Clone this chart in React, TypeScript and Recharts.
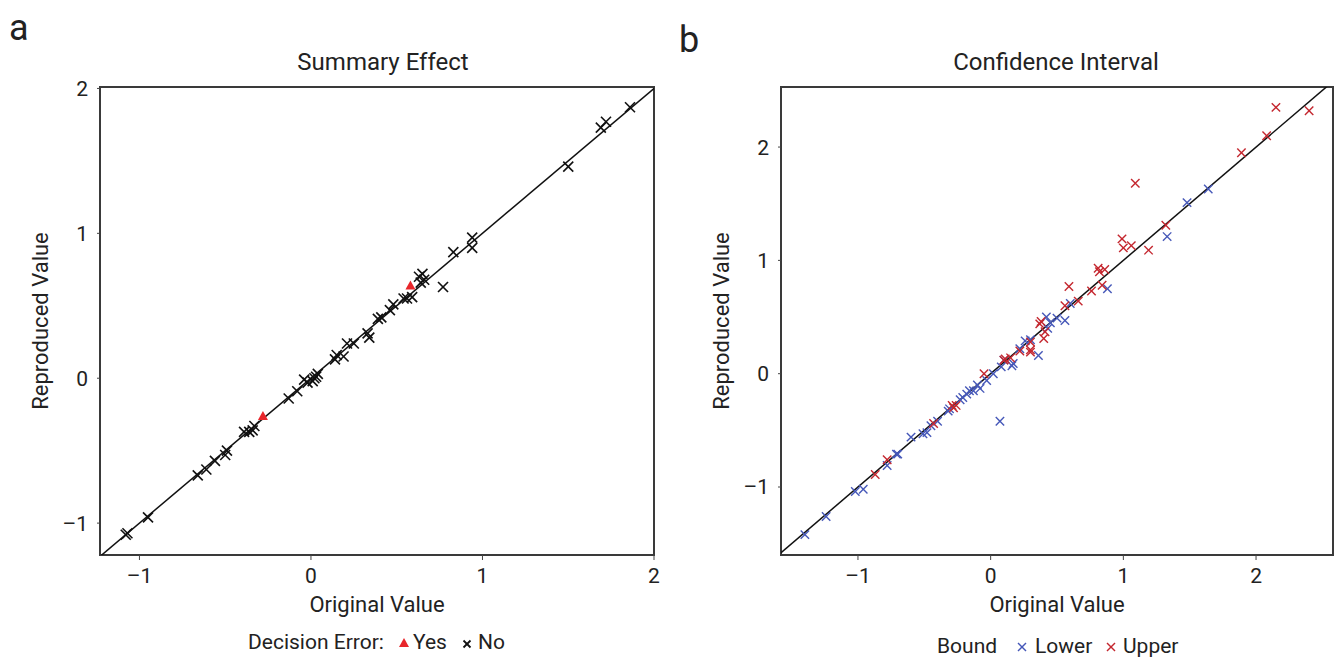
import React from 'react';
import {
  ScatterChart,
  Scatter,
  XAxis,
  YAxis,
  ReferenceLine,
  ReferenceArea,
} from 'recharts';

// Panel a: summary effect, [original, reproduced]
const summaryNo: [number, number][] = [
  [1.86, 1.87], [1.72, 1.77], [1.69, 1.73], [1.5, 1.46], [0.94, 0.97], [0.94, 0.9],
  [0.83, 0.87], [0.77, 0.63], [0.63, 0.7], [0.65, 0.72], [0.66, 0.68], [0.64, 0.66],
  [0.59, 0.56], [0.56, 0.55], [0.54, 0.55], [0.48, 0.51], [0.46, 0.47], [0.41, 0.42],
  [0.39, 0.41], [0.33, 0.31], [0.34, 0.28], [0.25, 0.24], [0.21, 0.24], [0.19, 0.15],
  [0.14, 0.13], [0.15, 0.16], [0.03, 0.01], [0.04, 0.03], [0.01, -0.02], [-0.02, -0.03],
  [-0.04, -0.01], [0.02, 0.0], [-0.08, -0.09], [-0.13, -0.14], [-0.33, -0.33],
  [-0.36, -0.37], [-0.39, -0.37], [-0.34, -0.36], [-0.49, -0.5], [-0.5, -0.53],
  [-0.56, -0.57], [-0.61, -0.63], [-0.66, -0.67], [-0.95, -0.96], [-1.07, -1.07],
  [-1.08, -1.08],
];
const summaryYes: [number, number][] = [[0.58, 0.64], [-0.28, -0.26]];

// Panel b: confidence interval bounds, [original, reproduced]
const boundLower: [number, number][] = [
  [1.64, 1.63], [1.48, 1.51], [1.33, 1.21], [0.88, 0.75], [0.6, 0.62], [0.56, 0.47],
  [0.42, 0.5], [0.43, 0.4], [0.5, 0.49], [0.45, 0.45], [0.36, 0.16], [0.26, 0.29],
  [0.3, 0.3], [0.22, 0.22], [0.17, 0.09], [0.16, 0.07], [0.1, 0.12], [0.08, 0.06],
  [0.07, -0.42], [0.02, 0.0], [-0.03, -0.06], [-0.08, -0.13], [-0.1, -0.1],
  [-0.13, -0.15], [-0.16, -0.15], [-0.18, -0.18], [-0.21, -0.21], [-0.23, -0.23],
  [-0.31, -0.31], [-0.32, -0.33], [-0.4, -0.42], [-0.45, -0.46], [-0.48, -0.52],
  [-0.51, -0.53], [-0.6, -0.56], [-0.7, -0.71], [-0.71, -0.71], [-0.78, -0.81],
  [-0.96, -1.02], [-1.02, -1.04], [-1.24, -1.26], [-1.4, -1.42],
];
const boundUpper: [number, number][] = [
  [2.4, 2.32], [2.15, 2.35], [2.08, 2.1], [1.89, 1.95], [1.32, 1.31], [1.09, 1.68],
  [1.19, 1.09], [1.06, 1.13], [1.0, 1.11], [0.99, 1.19], [0.86, 0.92], [0.82, 0.9],
  [0.81, 0.93], [0.84, 0.78], [0.76, 0.73], [0.66, 0.64], [0.59, 0.77], [0.56, 0.6],
  [0.41, 0.37], [0.4, 0.31], [0.37, 0.44], [0.38, 0.46], [0.3, 0.21], [0.3, 0.19],
  [0.3, 0.28], [0.22, 0.2], [0.15, 0.14], [0.1, 0.12], [0.11, 0.13], [-0.05, 0.0],
  [-0.26, -0.28], [-0.28, -0.3], [-0.29, -0.28], [-0.43, -0.44], [-0.78, -0.76],
  [-0.87, -0.89],
];

const ticksA = [-1, 0, 1, 2];
const ticksB = [-1, 0, 1, 2];

const FONT = 'Roboto, "Liberation Sans", Arial, sans-serif';
const INK = '#222';
const RED = '#c4262e';
const BLUE = '#4557b8';

const toPoints = (arr: [number, number][]) => arr.map(([x, y]) => ({ x, y }));
const fmt = (v: number) => (v < 0 ? `\u2013${Math.abs(v)}` : `${v}`);

function Cross({ cx, cy, r, color, w }: any) {
  if (cx == null || cy == null) return null;
  return (
    <g stroke={color} strokeWidth={w}>
      <line x1={cx - r} y1={cy - r} x2={cx + r} y2={cy + r} />
      <line x1={cx - r} y1={cy + r} x2={cx + r} y2={cy - r} />
    </g>
  );
}

function Tri({ cx, cy }: any) {
  if (cx == null || cy == null) return null;
  return <path d={`M${cx},${cy - 5} L${cx + 5},${cy + 4} L${cx - 5},${cy + 4} Z`} fill="#e8262b" />;
}

type PanelProps = {
  width: number;
  xDomain: [number, number];
  yDomain: [number, number];
  ticks: number[];
  margin: { top: number; right: number; bottom: number; left: number };
  children: React.ReactNode;
};

function Panel({ width, xDomain, yDomain, ticks, margin, children }: PanelProps) {
  const tickStyle = { fill: INK, fontSize: 21, fontFamily: FONT };
  return (
    <ScatterChart width={width} height={660} margin={margin}>
      <XAxis
        type="number"
        dataKey="x"
        domain={xDomain}
        ticks={ticks}
        allowDataOverflow
        axisLine={false}
        tickLine={{ stroke: '#444' }}
        tickSize={5}
        tickMargin={8}
        height={30}
        tick={tickStyle}
        tickFormatter={fmt}
        label={{
          value: 'Original Value',
          position: 'bottom',
          offset: 11,
          style: { fill: INK, fontSize: 22, fontFamily: FONT },
        }}
      />
      <YAxis
        type="number"
        dataKey="y"
        domain={yDomain}
        ticks={ticks}
        allowDataOverflow
        axisLine={false}
        tickLine={{ stroke: '#444' }}
        tickSize={3}
        tickMargin={9}
        width={80}
        tick={tickStyle}
        tickFormatter={fmt}
        label={{
          value: 'Reproduced Value',
          angle: -90,
          position: 'insideLeft',
          offset: 20,
          style: { fill: INK, fontSize: 22, fontFamily: FONT, textAnchor: 'middle' },
        }}
      />
      <ReferenceArea
        x1={xDomain[0]}
        x2={xDomain[1]}
        y1={yDomain[0]}
        y2={yDomain[1]}
        fill="none"
        stroke="#3a3a3a"
        strokeWidth={2}
        ifOverflow="visible"
      />
      <ReferenceLine
        segment={[{ x: -3, y: -3 }, { x: 3, y: 3 }]}
        stroke="#111"
        strokeWidth={1.5}
        ifOverflow="hidden"
      />
      {children}
    </ScatterChart>
  );
}

const abs = (left: number, top: number, size: number, extra: any = {}) => ({
  position: 'absolute' as const,
  left,
  top,
  fontSize: size,
  lineHeight: 1,
  color: INK,
  whiteSpace: 'nowrap' as const,
  ...extra,
});

export default function App() {
  return (
    <div
      style={{
        position: 'absolute',
        left: 0,
        top: 0,
        width: 1336,
        height: 660,
        background: '#fff',
        fontFamily: FONT,
        overflow: 'hidden',
      }}
    >
      <div style={abs(9, 10, 36)}>a</div>
      <div style={abs(679, 22, 36)}>b</div>
      <div style={abs(383, 50, 24, { transform: 'translateX(-50%)' })}>Summary Effect</div>
      <div style={abs(1056, 50, 24, { transform: 'translateX(-50%)' })}>Confidence Interval</div>

      <div style={{ position: 'absolute', left: 0, top: 0 }}>
        <Panel
          width={670}
          xDomain={[-1.23, 2.0]}
          yDomain={[-1.22, 2.01]}
          ticks={ticksA}
          margin={{ top: 87, right: 16, bottom: 75, left: 20 }}
        >
          <Scatter
            data={toPoints(summaryNo)}
            isAnimationActive={false}
            shape={(p: any) => <Cross cx={p.cx} cy={p.cy} r={5} color="#111" w={1.6} />}
          />
          <Scatter data={toPoints(summaryYes)} isAnimationActive={false} shape={(p: any) => <Tri cx={p.cx} cy={p.cy} />} />
        </Panel>
      </div>

      <div style={{ position: 'absolute', left: 680, top: 0 }}>
        <Panel
          width={656}
          xDomain={[-1.58, 2.58]}
          yDomain={[-1.6, 2.53]}
          ticks={ticksB}
          margin={{ top: 87, right: 3, bottom: 75, left: 21 }}
        >
          <Scatter
            data={toPoints(boundLower)}
            isAnimationActive={false}
            shape={(p: any) => <Cross cx={p.cx} cy={p.cy} r={4.2} color={BLUE} w={1.4} />}
          />
          <Scatter
            data={toPoints(boundUpper)}
            isAnimationActive={false}
            shape={(p: any) => <Cross cx={p.cx} cy={p.cy} r={4.2} color={RED} w={1.4} />}
          />
        </Panel>
      </div>

      {/* legend a */}
      <div style={abs(248, 632, 21)}>Decision Error:</div>
      <svg style={{ position: 'absolute', left: 398, top: 637 }} width={12} height={12}>
        <path d="M6,1 L11,10 L1,10 Z" fill="#e8262b" />
      </svg>
      <div style={abs(413, 632, 21)}>Yes</div>
      <svg style={{ position: 'absolute', left: 461, top: 638 }} width={12} height={12}>
        <Cross cx={6} cy={6} r={3.5} color="#111" w={1.8} />
      </svg>
      <div style={abs(478, 632, 21)}>No</div>

      {/* legend b */}
      <div style={abs(937, 636, 21)}>Bound</div>
      <svg style={{ position: 'absolute', left: 1016, top: 641 }} width={12} height={12}>
        <Cross cx={6} cy={6} r={4} color={BLUE} w={1.4} />
      </svg>
      <div style={abs(1035, 636, 21)}>Lower</div>
      <svg style={{ position: 'absolute', left: 1105, top: 641 }} width={12} height={12}>
        <Cross cx={6} cy={6} r={4} color={RED} w={1.4} />
      </svg>
      <div style={abs(1123, 636, 21)}>Upper</div>
    </div>
  );
}
